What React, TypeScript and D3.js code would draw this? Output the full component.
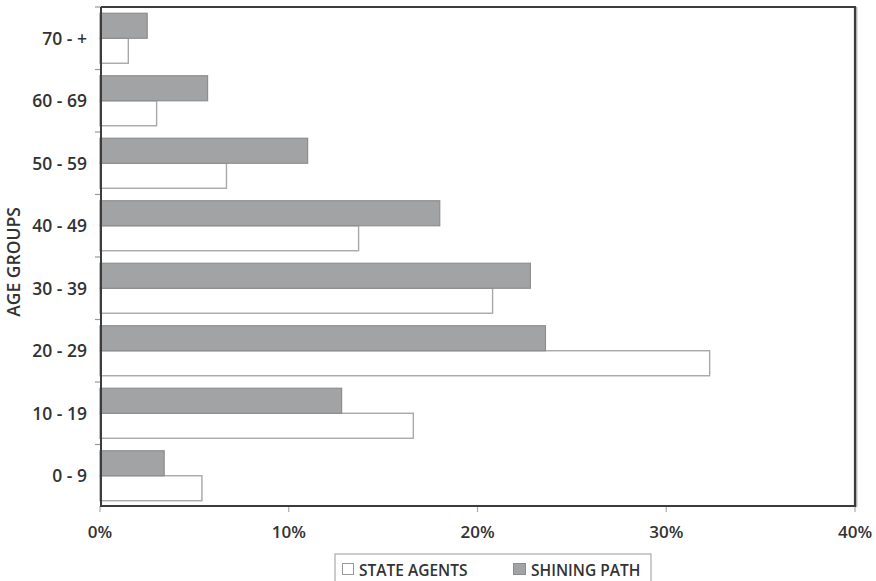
import React from "react";
import * as d3 from "d3";

const categories = ["70 - +", "60 - 69", "50 - 59", "40 - 49", "30 - 39", "20 - 29", "10 - 19", "0 - 9"];
const shiningPath = [2.5, 5.7, 11.0, 18.0, 22.8, 23.6, 12.8, 3.4];
const stateAgents = [1.5, 3.0, 6.7, 13.7, 20.8, 32.3, 16.6, 5.4];
const seriesNames = ["SHINING PATH", "STATE AGENTS"];
const xTicks = [0, 10, 20, 30, 40];

const W = 876, H = 581;
const left = 101, right = 855, top = 7, bottom = 507;
const FONT = "'Open Sans', 'Noto Sans', sans-serif";
const TEXT = "#333";

export default function App() {
  const x = d3.scaleLinear().domain([0, 40]).range([left - 1, right]);
  const y = d3.scaleBand<string>().domain(categories).range([top, bottom]).padding(0);
  const inner = d3.scaleBand<string>().domain(seriesNames).range([0, y.bandwidth()]).paddingInner(0).paddingOuter(0.25);

  const grayFill = "#a2a3a5";
  const grayStroke = "#8c8d8f";
  const whiteStroke = "#a8a8a8";

  return (
    <svg width={W} height={H} style={{ position: "absolute", left: 0, top: 0, background: "#fff" }}>
      {categories.map((c, i) => (
        <line key={"yt" + i} x1={left - 6} x2={left} y1={y(c)!} y2={y(c)!} stroke="#999" strokeWidth={1.2} />
      ))}
      {xTicks.map((t) => (
        <line key={"xt" + t} x1={x(t)} x2={x(t)} y1={bottom - 1} y2={bottom + 5} stroke="#aaa" strokeWidth={1.2} />
      ))}
      {categories.map((c, i) => {
        const by = y(c)!;
        const sp = shiningPath[i];
        const sa = stateAgents[i];
        return (
          <g key={"b" + i}>
            <rect x={x(0)} y={by + inner("STATE AGENTS")!} width={x(sa) - x(0)} height={inner.bandwidth()}
              fill="#fff" stroke={whiteStroke} strokeWidth={1.4} />
            <rect x={x(0)} y={by + inner("SHINING PATH")!} width={x(sp) - x(0)} height={inner.bandwidth()}
              fill={grayFill} stroke={grayStroke} strokeWidth={1.2} />
          </g>
        );
      })}
      <line x1={left} x2={right} y1={top} y2={top} stroke="#3c3c3c" strokeWidth={2} />
      <line x1={left} x2={right} y1={bottom - 1} y2={bottom - 1} stroke="#3c3c3c" strokeWidth={2.2} />
      <line x1={left} x2={left} y1={top} y2={bottom} stroke="#3c3c3c" strokeWidth={2} />
      <line x1={right} x2={right} y1={top - 1} y2={bottom} stroke="#3c3c3c" strokeWidth={2.2} />
      <line x1={right + 1.8} x2={right + 1.8} y1={top} y2={bottom} stroke="#9a9a9a" strokeWidth={1} />
      {categories.map((c) => (
        <text key={"yl" + c} x={87} y={y(c)! + y.bandwidth() / 2} dy="0.36em" textAnchor="end"
          fontFamily={FONT} fontWeight={600} fontSize={17.5} fill={TEXT}>{c}</text>
      ))}
      {xTicks.map((t) => (
        <text key={"xl" + t} x={x(t)} y={538} textAnchor="middle"
          fontFamily={FONT} fontWeight={600} fontSize={17} fill={TEXT}>{t + "%"}</text>
      ))}
      <text transform={`translate(20, 262) rotate(-90)`} textAnchor="middle"
        fontFamily={FONT} fontWeight={600} fontSize={17.5} fill={TEXT}>AGE GROUPS</text>
      <rect x={335} y={554} width={316} height={40} fill="#fff" stroke="#aaa" strokeWidth={1.2} />
      <rect x={342.5} y={563.5} width={11} height={11} fill="#fff" stroke="#999" strokeWidth={1} />
      <text x={359} y={575.5} fontFamily={FONT} fontWeight={600} fontSize={15.5} fill={TEXT}>STATE AGENTS</text>
      <rect x={513.5} y={563.5} width={12} height={11} fill={grayFill} stroke={grayStroke} strokeWidth={1} />
      <text x={531} y={575.5} fontFamily={FONT} fontWeight={600} fontSize={15.5} fill={TEXT}>SHINING PATH</text>
    </svg>
  );
}
